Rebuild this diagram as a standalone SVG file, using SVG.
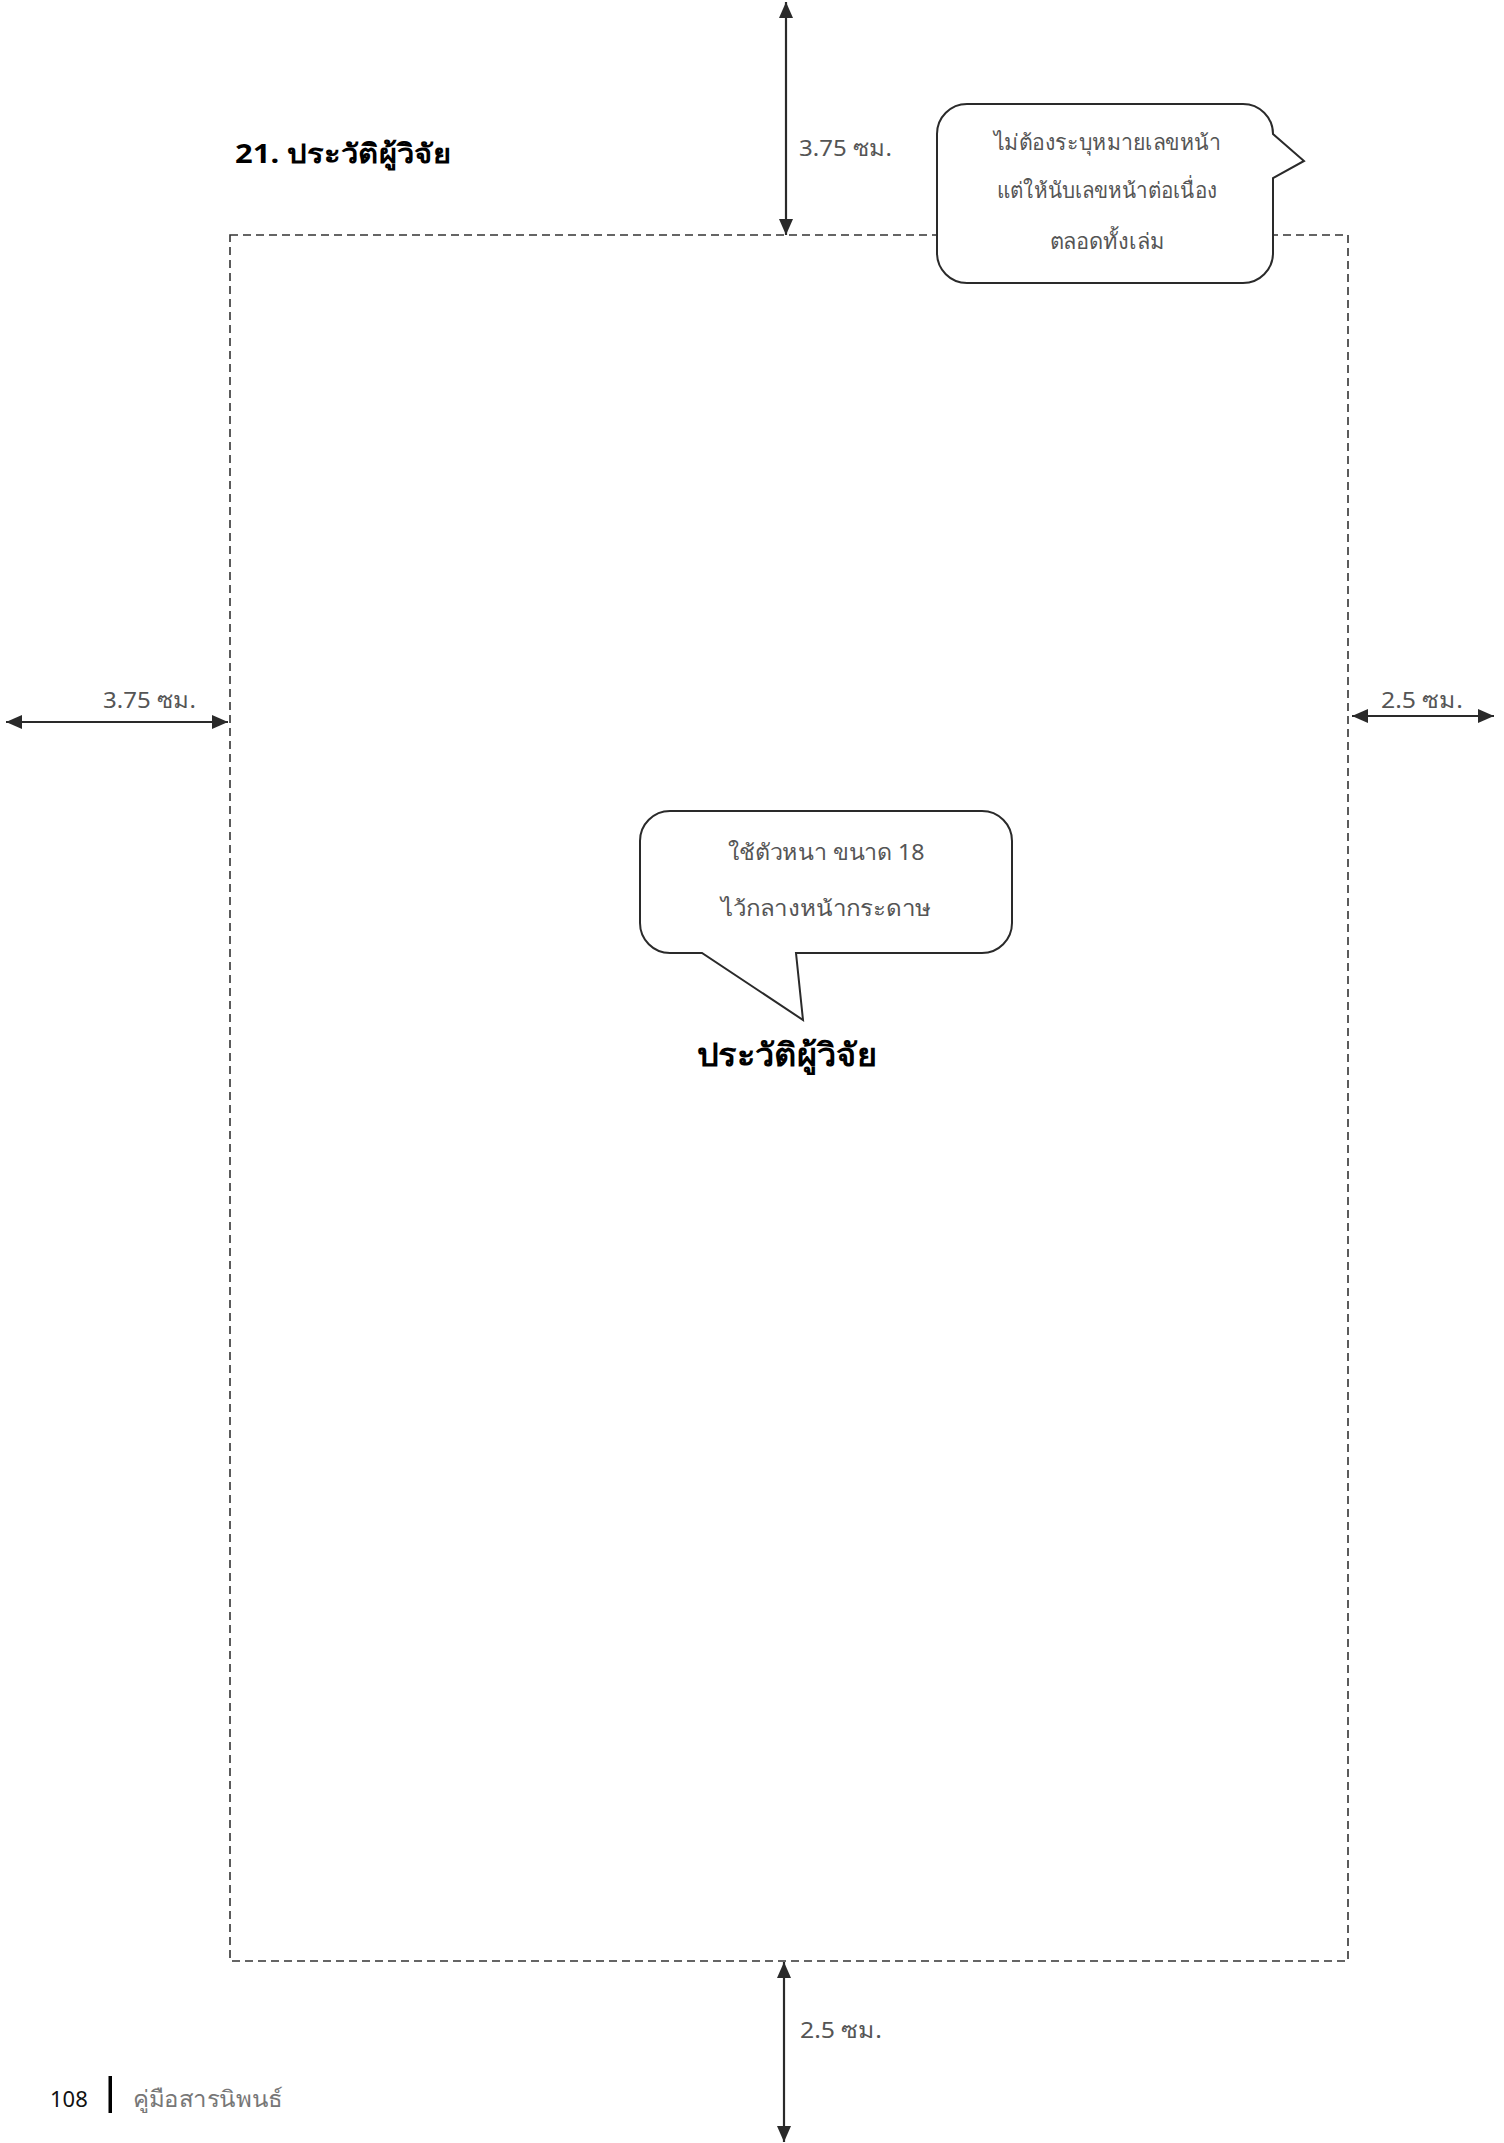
<svg xmlns="http://www.w3.org/2000/svg" width="1504" height="2143" viewBox="0 0 1504 2143">
<style>
.t{font-family:"Noto Sans","DejaVu Sans","Liberation Sans",sans-serif;}
.gray{fill:#555;font-size:22px;}
.dim{stroke:#2a2a2a;stroke-width:2.2;fill:none;}
.bub{fill:#fff;stroke:#2a2a2a;stroke-width:2;}
</style>
<defs>
<marker id="ah" viewBox="0 0 16 14" refX="16" refY="7" markerWidth="16" markerHeight="14" markerUnits="userSpaceOnUse" orient="auto-start-reverse">
<path d="M0,0 L16,7 L0,14 Z" fill="#2a2a2a"/>
</marker>
</defs>
<rect width="1504" height="2143" fill="#fff"/>
<g id="page-frame">
<rect x="230" y="235" width="1118" height="1726" fill="none" stroke="#333" stroke-width="1.6" stroke-dasharray="8 5"/>
</g>
<g id="title">
<text class="t" x="235" y="163" font-size="27" font-weight="bold" fill="#000" textLength="216" lengthAdjust="spacingAndGlyphs">21. ประวัติผู้วิจัย</text>
</g>
<g id="connectors">
<line class="dim" x1="786" y1="2" x2="786" y2="235" marker-start="url(#ah)" marker-end="url(#ah)"/>
<line class="dim" x1="6" y1="722" x2="228" y2="722" marker-start="url(#ah)" marker-end="url(#ah)"/>
<line class="dim" x1="1352" y1="716" x2="1494" y2="716" marker-start="url(#ah)" marker-end="url(#ah)"/>
<line class="dim" x1="784" y1="1962" x2="784" y2="2142" marker-start="url(#ah)" marker-end="url(#ah)"/>
</g>
<g id="label-top"><text class="t gray" x="799" y="156" textLength="93" lengthAdjust="spacingAndGlyphs">3.75 ซม.</text></g>
<g id="label-left"><text class="t gray" x="103" y="708" textLength="93" lengthAdjust="spacingAndGlyphs">3.75 ซม.</text></g>
<g id="label-right"><text class="t gray" x="1381" y="708" textLength="82" lengthAdjust="spacingAndGlyphs">2.5 ซม.</text></g>
<g id="label-bottom"><text class="t gray" x="800" y="2038" textLength="82" lengthAdjust="spacingAndGlyphs">2.5 ซม.</text></g>
<g id="callout-page-number">
<path class="bub" d="M967,104 H1243 A30,30 0 0 1 1273,134 L1304,161 L1273,178 V253 A30,30 0 0 1 1243,283 H967 A30,30 0 0 1 937,253 V134 A30,30 0 0 1 967,104 Z"/>
<text class="t gray" font-size="21" text-anchor="middle" x="1107" y="150" textLength="227" lengthAdjust="spacingAndGlyphs">ไม่ต้องระบุหมายเลขหน้า</text>
<text class="t gray" font-size="21" text-anchor="middle" x="1107" y="198" textLength="220" lengthAdjust="spacingAndGlyphs">แต่ให้นับเลขหน้าต่อเนื่อง</text>
<text class="t gray" font-size="21" text-anchor="middle" x="1107" y="249" textLength="115" lengthAdjust="spacingAndGlyphs">ตลอดทั้งเล่ม</text>
</g>
<g id="callout-heading">
<path class="bub" d="M670,811 H982 A30,30 0 0 1 1012,841 V923 A30,30 0 0 1 982,953 H796 L803,1020 L702,953 H670 A30,30 0 0 1 640,923 V841 A30,30 0 0 1 670,811 Z"/>
<text class="t gray" text-anchor="middle" x="826" y="860" textLength="197" lengthAdjust="spacingAndGlyphs">ใช้ตัวหนา ขนาด 18</text>
<text class="t gray" text-anchor="middle" x="826" y="916" textLength="211" lengthAdjust="spacingAndGlyphs">ไว้กลางหน้ากระดาษ</text>
</g>
<g id="heading">
<text class="t" x="787" y="1066" text-anchor="middle" font-size="32" font-weight="bold" fill="#000" textLength="180" lengthAdjust="spacingAndGlyphs">ประวัติผู้วิจัย</text>
</g>
<g id="footer">
<text class="t" x="50" y="2107" font-size="22" fill="#111">108</text>
<rect x="108.5" y="2076" width="3.5" height="37" fill="#000"/>
<text class="t" x="133" y="2107" font-size="23" fill="#777" textLength="150" lengthAdjust="spacingAndGlyphs">คู่มือสารนิพนธ์</text>
</g>
</svg>
